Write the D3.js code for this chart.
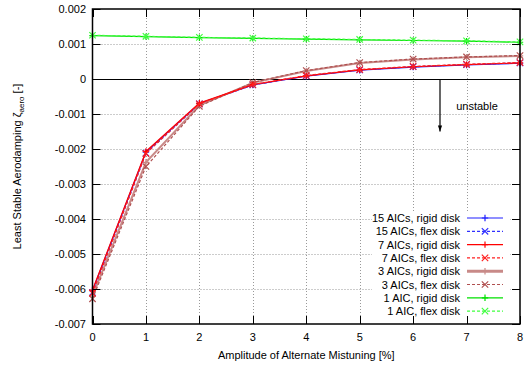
<!DOCTYPE html>
<html>
<head>
<meta charset="utf-8">
<script src="https://cdn.jsdelivr.net/npm/d3@7"></script>
<style>
  body { margin: 0; background: #fff; }
  svg { font-family: "Liberation Sans", Arial, sans-serif; }
</style>
</head>
<body>
<div id="chart"></div>
<script>
// amplitude of mistuning [%]
const amplitude = [0, 1, 2, 3, 4, 5, 6, 7, 8];

// least stable aerodamping, one array per case
const aic15Rigid = [-0.00605, -0.00209, -0.00070, -0.00017, 0.00008, 0.00025, 0.00034, 0.00040, 0.00045];
const aic15Flex  = [-0.00610, -0.00212, -0.00071, -0.00017, 0.00009, 0.00026, 0.00035, 0.00041, 0.00046];
const aic7Rigid  = [-0.00603, -0.00207, -0.00069, -0.00016, 0.00009, 0.00026, 0.00035, 0.00041, 0.00046];
const aic7Flex   = [-0.00612, -0.00213, -0.00071, -0.00016, 0.00010, 0.00027, 0.00036, 0.00042, 0.00047];
const aic3Rigid  = [-0.00620, -0.00238, -0.00075, -0.00011, 0.00023, 0.00046, 0.00056, 0.00062, 0.00066];
const aic3Flex   = [-0.00628, -0.00250, -0.00078, -0.00010, 0.00024, 0.00047, 0.00057, 0.00063, 0.00067];
const aic1Rigid  = [0.00124, 0.00121, 0.00118, 0.00116, 0.00114, 0.00112, 0.00110, 0.00108, 0.00105];
const aic1Flex   = [0.00125, 0.00122, 0.00119, 0.00117, 0.00115, 0.00113, 0.00111, 0.00109, 0.00106];

const seriesNames = ['15 AICs, rigid disk', '15 AICs, flex disk', '7 AICs, rigid disk', '7 AICs, flex disk',
                     '3 AICs, rigid disk', '3 AICs, flex disk', '1 AIC, rigid disk', '1 AIC, flex disk'];

const xTicks = [0, 1, 2, 3, 4, 5, 6, 7, 8];
const yTicks = [0.002, 0.001, 0, -0.001, -0.002, -0.003, -0.004, -0.005, -0.006, -0.007];

// styles for each line (same order as names)
const styles = [
  { color: '#2020ff', width: 1.2, dash: null,  mark: 'plus' },
  { color: '#3030ff', width: 1.2, dash: '3,2', mark: 'cross' },
  { color: '#ff0000', width: 1.2, dash: null,  mark: 'plus' },
  { color: '#ff2020', width: 1.2, dash: '3,2', mark: 'cross' },
  { color: '#c88a88', width: 2,   dash: null,  mark: 'plus' },
  { color: '#b05050', width: 1.2, dash: '3,2', mark: 'cross' },
  { color: '#00e000', width: 1.2, dash: null,  mark: 'plus' },
  { color: '#40ff40', width: 1.2, dash: '3,2', mark: 'cross' }
];
const allValues = [aic15Rigid, aic15Flex, aic7Rigid, aic7Flex, aic3Rigid, aic3Flex, aic1Rigid, aic1Flex];
// draw the red series last among the decaying curves, as in the picture
const drawOrder = [0, 1, 4, 5, 2, 3, 6, 7];

const width = 528, height = 368;
const mLeft = 92.5, mRight = 520, mTop = 9, mBottom = 324;

const svg = d3.select('#chart').append('svg')
  .attr('width', width)
  .attr('height', height);

const x = d3.scaleLinear().domain([0, 8]).range([mLeft, mRight]);
const y = d3.scaleLinear().domain([-0.007, 0.002]).range([mBottom, mTop]);

// grid
const grid = svg.append('g').attr('stroke', '#999').attr('stroke-width', 1).attr('stroke-dasharray', '1,2');
grid.selectAll('.gx').data(xTicks.slice(1, -1)).join('line')
  .attr('x1', d => Math.round(x(d)) + 0.5).attr('x2', d => Math.round(x(d)) + 0.5)
  .attr('y1', mTop).attr('y2', mBottom);
grid.selectAll('.gy').data(yTicks.filter(d => d !== 0 && d > -0.007 && d < 0.002)).join('line')
  .attr('x1', mLeft).attr('x2', mRight)
  .attr('y1', d => Math.round(y(d)) + 0.5).attr('y2', d => Math.round(y(d)) + 0.5);

// zero axis
svg.append('line')
  .attr('x1', mLeft).attr('x2', mRight)
  .attr('y1', Math.round(y(0)) + 0.5).attr('y2', Math.round(y(0)) + 0.5)
  .attr('stroke', '#000').attr('stroke-width', 1.2);

// unstable arrow
const arrowX = 440;
svg.append('defs').append('marker')
  .attr('id', 'arrow').attr('viewBox', '0 0 10 10')
  .attr('refX', 10).attr('refY', 5)
  .attr('markerWidth', 8).attr('markerHeight', 6)
  .attr('markerUnits', 'userSpaceOnUse')
  .attr('orient', 'auto')
  .append('path').attr('d', 'M0,1.5 L10,5 L0,8.5 Z').attr('fill', '#000');
svg.append('line')
  .attr('x1', arrowX).attr('x2', arrowX)
  .attr('y1', y(0)).attr('y2', y(-0.00150))
  .attr('stroke', '#000').attr('stroke-width', 1.2)
  .attr('marker-end', 'url(#arrow)');
svg.append('text')
  .attr('x', 477).attr('y', 110)
  .attr('text-anchor', 'middle').attr('font-size', 11)
  .text('unstable');

// lines and markers
function drawMark(g, kind, cx, cy, color) {
  const s = 3.2;
  if (kind === 'plus') {
    g.append('path').attr('d', `M${cx - s},${cy}H${cx + s}M${cx},${cy - s}V${cy + s}`)
      .attr('stroke', color).attr('stroke-width', 1.2).attr('fill', 'none');
  } else {
    g.append('path').attr('d', `M${cx - s},${cy - s}L${cx + s},${cy + s}M${cx - s},${cy + s}L${cx + s},${cy - s}`)
      .attr('stroke', color).attr('stroke-width', 1.2).attr('fill', 'none');
  }
}

const line = d3.line().x((d, i) => x(amplitude[i])).y(d => y(d));
const plot = svg.append('g');
drawOrder.forEach(k => {
  const vals = allValues[k];
  const st = styles[k];
  plot.append('path')
    .datum(vals)
    .attr('d', line)
    .attr('fill', 'none')
    .attr('stroke', st.color)
    .attr('stroke-width', st.width)
    .attr('stroke-dasharray', st.dash);
  vals.forEach((v, i) => drawMark(plot, st.mark, x(amplitude[i]), y(v), st.color));
});

// legend with white background
const legTop = 211, rowH = 13.3;
svg.append('rect')
  .attr('x', 372).attr('y', legTop).attr('width', 138).attr('height', rowH * 8 + 2)
  .attr('fill', '#fff');
const legend = svg.append('g');
seriesNames.forEach((name, k) => {
  const st = styles[k];
  const cy = legTop + 7 + k * rowH;
  legend.append('text')
    .attr('x', 460).attr('y', cy + 4)
    .attr('text-anchor', 'end').attr('font-size', 11)
    .text(name);
  legend.append('line')
    .attr('x1', 467).attr('x2', 503).attr('y1', cy).attr('y2', cy)
    .attr('stroke', st.color).attr('stroke-width', k === 4 ? 3 : st.width)
    .attr('stroke-dasharray', st.dash);
  drawMark(legend, st.mark, 485, cy, st.color);
});

// border and inward ticks
svg.append('rect')
  .attr('x', mLeft).attr('y', mTop).attr('width', mRight - mLeft).attr('height', mBottom - mTop)
  .attr('fill', 'none').attr('stroke', '#000').attr('stroke-width', 1.5);
const ticks = svg.append('g').attr('stroke', '#000').attr('stroke-width', 1);
const tl = 8;
xTicks.forEach(d => {
  const px = Math.round(x(d)) + 0.5;
  ticks.append('line').attr('x1', px).attr('x2', px).attr('y1', mBottom).attr('y2', mBottom - tl);
  ticks.append('line').attr('x1', px).attr('x2', px).attr('y1', mTop).attr('y2', mTop + tl);
});
yTicks.forEach(d => {
  const py = Math.round(y(d)) + 0.5;
  ticks.append('line').attr('x1', mLeft).attr('x2', mLeft + tl).attr('y1', py).attr('y2', py);
  ticks.append('line').attr('x1', mRight).attr('x2', mRight - tl).attr('y1', py).attr('y2', py);
});

// tick labels
const fmtY = d => d === 0 ? '0' : d3.format('.3f')(d).replace('−', '-');
svg.append('g').selectAll('text').data(yTicks).join('text')
  .attr('x', 86).attr('y', d => y(d) + 4)
  .attr('text-anchor', 'end').attr('font-size', 11)
  .text(fmtY);
svg.append('g').selectAll('text').data(xTicks).join('text')
  .attr('x', d => x(d)).attr('y', 341)
  .attr('text-anchor', 'middle').attr('font-size', 11)
  .text(d => d);

// axis titles
svg.append('text')
  .attr('x', (mLeft + mRight) / 2).attr('y', 359)
  .attr('text-anchor', 'middle').attr('font-size', 11)
  .text('Amplitude of Alternate Mistuning [%]');

const yTitle = svg.append('text')
  .attr('transform', `translate(21,${(mTop + mBottom) / 2}) rotate(-90)`)
  .attr('text-anchor', 'middle').attr('font-size', 11);
yTitle.append('tspan').text('Least Stable Aerodamping ζ');
yTitle.append('tspan').attr('font-size', 8).attr('dy', 3).text('aero');
yTitle.append('tspan').attr('dy', -3).text(' [-]');
</script>
</body>
</html>
